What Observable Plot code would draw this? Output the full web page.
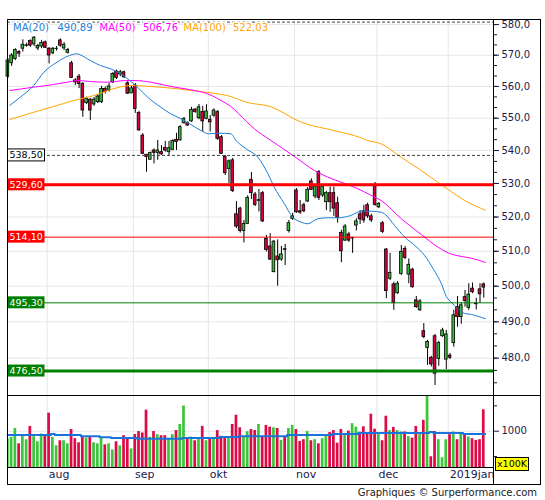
<!DOCTYPE html>
<html><head><meta charset="utf-8">
<script src="https://cdn.jsdelivr.net/npm/d3@7"></script>
<script src="https://cdn.jsdelivr.net/npm/@observablehq/plot@0.6"></script>
<style>
html,body{margin:0;padding:0;background:#fff;}
#wrap{position:relative;width:545px;height:500px;font-family:"DejaVu Sans",sans-serif;overflow:hidden;}
#wrap svg{position:absolute;left:0;}
.ln{position:absolute;background:#000;}
#copy{position:absolute;right:8px;top:487px;font-size:10px;line-height:12px;color:#222;white-space:nowrap;}
#unit{position:absolute;left:495px;top:457px;width:32px;height:12px;background:#ffff00;border:1px solid #000;font-size:9.5px;line-height:12px;text-align:center;color:#000;}
</style></head><body>
<div id="wrap"></div>
<script>
// ---------- data ----------
const opens = [563.1,567.4,568.8,571.0,572.1,573.0,574.6,573.5,572.2,572.8,574.2,572.1,570.6,572.0,574.8,572.2,570.8,567.4,561.9,563.1,
560.8,554.7,555.8,554.3,555.0,555.0,559.2,558.7,561.3,564.7,563.8,564.5,561.0,557.8,560.3,551.6,544.6,538.7,537.2,540.0,
539.3,539.5,540.8,539.5,540.2,543.3,543.1,548.4,548.4,549.0,552.7,550.0,551.9,549.8,549.5,550.8,551.9,544.1,538.0,534.4,
537.0,520.8,522.5,515.9,518.0,531.1,526.7,524.8,527.1,513.6,511.4,504.0,508.5,507.6,510.6,515.9,519.5,527.9,521.7,523.5,
524.6,530.6,526.1,533.4,526.4,524.4,527.1,527.1,524.1,515.3,513.1,514.9,513.7,517.5,520.8,521.7,523.5,520.2,529.4,522.9,
518.2,510.5,502.1,500.5,498.0,503.5,510.7,503.3,504.7,496.0,493.2,487.4,482.8,480.1,486.0,479.8,486.0,479.6,480.7,484.1,
494.1,491.3,496.9,493.9,499.3,495.1,499.1,500.5];
const highs = [568.9,570.5,572.1,571.5,575.0,573.9,575.0,576.1,573.5,574.8,574.6,572.5,572.5,572.8,575.3,574.1,572.2,568.0,562.5,563.8,
561.2,556.6,556.2,556.5,557.4,560.0,559.8,561.0,564.4,565.2,565.1,564.9,561.6,560.3,560.9,552.1,545.2,538.8,539.5,540.5,
543.1,541.5,542.8,542.8,543.3,545.3,547.7,550.2,548.9,553.4,553.0,554.3,553.7,554.2,550.8,552.9,552.4,544.6,538.5,537.1,
537.6,524.6,522.9,519.0,526.3,533.3,527.3,528.2,527.6,514.6,515.1,513.1,513.3,511.4,512.0,519.0,521.1,528.5,524.9,524.1,
528.8,531.4,529.7,533.9,529.4,527.6,528.9,528.9,525.9,516.1,517.8,515.5,514.1,519.5,521.9,523.5,524.1,520.8,530.3,524.3,
518.7,510.8,509.4,501.1,501.3,511.7,511.4,507.8,505.1,497.1,496.2,489.5,484.9,480.5,486.5,484.6,488.2,487.6,481.3,493.2,
497.1,495.4,498.8,500.7,500.9,496.6,500.7,500.9];
const lows = [562.5,566.4,568.3,569.3,571.0,572.6,572.6,572.8,571.5,572.1,572.2,567.2,570.2,571.3,572.6,571.5,570.4,562.5,560.3,559.3,
550.3,554.3,549.3,553.7,554.6,554.6,557.6,558.2,560.9,562.2,563.1,562.5,557.4,557.7,551.5,545.9,538.8,533.4,537.0,535.9,
537.0,538.5,539.5,538.2,540.0,540.0,542.9,548.2,547.4,548.7,551.5,549.5,545.7,549.5,545.7,550.3,543.1,538.8,532.4,530.0,
527.3,516.6,515.3,512.4,517.8,525.2,523.1,521.5,518.4,509.8,507.4,503.8,500.0,507.1,505.9,515.3,519.0,521.1,520.8,521.3,
524.3,527.9,525.4,524.9,525.8,521.9,521.4,520.2,518.2,506.7,512.8,512.6,509.4,515.9,517.8,518.2,519.6,518.4,523.2,522.5,
515.2,496.5,501.6,493.2,497.7,503.1,507.6,500.7,499.4,493.7,492.9,485.3,478.0,477.6,472.6,477.8,485.7,476.9,479.6,483.0,
488.5,489.3,494.1,493.2,497.9,493.3,495.1,496.6];
const closes = [568.3,569.9,571.7,570.5,573.4,573.2,573.1,575.7,573.0,574.0,572.4,569.9,572.1,572.1,573.1,573.4,571.7,562.7,561.3,560.8,
552.4,556.1,552.4,555.8,556.8,559.2,558.2,560.0,564.0,562.7,564.5,562.9,557.7,559.4,552.9,546.2,539.0,538.0,539.2,539.3,
540.0,538.8,540.0,540.7,542.9,542.6,547.2,549.7,547.7,552.6,551.9,553.4,549.0,552.1,548.7,552.4,543.6,539.0,533.1,536.7,
527.7,517.2,515.9,518.0,525.7,527.1,523.6,525.0,518.7,510.4,507.6,512.8,507.4,509.1,510.4,518.2,520.2,521.4,521.3,521.7,
528.1,528.1,529.1,525.7,528.9,527.1,524.4,522.5,519.8,510.0,517.2,513.1,513.9,518.7,519.3,519.0,520.2,519.0,523.6,523.9,
515.6,498.6,503.8,495.2,500.7,509.8,508.1,506.1,499.7,494.1,495.7,485.8,484.4,478.3,475.8,484.1,487.6,486.5,480.1,491.8,
491.3,494.6,495.8,497.6,498.3,494.9,497.7,499.6];
// volume, unit x100K
const volumes = [852,879,1054,751,919,832,1094,892,791,946,
919,1356,879,711,812,812,751,1033,852,771,
892,865,879,771,751,879,731,751,630,791,
711,912,865,650,933,993,966,1416,879,993,
933,912,912,845,933,1013,1134,1497,865,885,
812,865,1094,812,865,865,1013,899,879,879,
1134,1316,1067,892,990,1033,1013,1134,899,1114,
1080,1067,1054,818,899,1054,1114,1033,798,832,
993,812,832,751,852,933,973,1013,765,1033,
919,1000,1148,1080,980,1087,973,1336,1040,966,
812,1296,1013,1074,1013,986,986,892,865,1094,
933,1215,1700,496,993,832,476,832,933,986,
832,946,926,885,852,818,832,1423];

// moving averages (candle index, value)
const ma20Idx = [0.5,3.3,6.9,9.6,13.1,15.8,18.5,19.3,22,24.7,27.4,30,34.6,37.3,40.8,43.5,46.2,48.8,51.5,53.5,56,59.5,60.9,63.6,66.7,69.4,71.1,73.8,76,78.3,80,82.7,85.4,88.1,91.5,94.3,97,99.6,100.5,103.2,105.9,108.6,111.2,113.5,115.7,117,118.4,119.7,121.9,123.7,125.5,127.4];
const ma20Val = [553.97,556.58,560.28,564.52,567.73,569.58,570.45,570.12,568.28,566.67,565.61,564.0,559.75,556.58,553.43,551.36,549.8,548.03,546.17,545.15,545.34,545.15,543.08,540.5,537.96,532.92,528.88,523.93,519.96,518.5,518.02,519.49,519.78,519.78,520.46,521.72,521.72,521.43,520.96,517.52,514.1,511.68,508.79,504.97,500.69,497.1,495.4,493.98,492.33,492.05,491.5,490.89];
const ma50Idx = [0.5,6.9,12.2,15.8,18.5,22,26.5,31.4,33.7,38.2,43.5,48.8,53.3,56.9,59.5,63.6,65.8,70.2,76.5,81.8,85.4,88.9,93.4,97,99.6,105,110.3,114.8,117.5,121,123.7,127.4];
const ma50Val = [558.7,559.75,560.6,561.33,561.87,561.55,561.33,561.87,561.87,561.33,559.97,558.92,557.65,555.54,553.65,549.05,546.7,543.08,538.17,533.92,531.9,530.4,528.41,526.4,524.9,519.49,514.88,511.19,509.52,508.5,508.01,506.76];
const ma100Idx = [0.5,6.9,12.2,17.6,23,27.5,32.8,38.2,45.3,50.6,56,59.5,63.6,70,78.3,88,94,96,99.6,105,110.3,117.5,121.9,127.4];
const ma100Val = [549.58,551.86,553.65,555.54,557.11,559.02,560.28,559.97,559.24,558.48,557.65,556.8,555.0,553.65,548.74,545.9,544.0,543.08,542.07,537.9,533.9,528.2,524.9,522.03];
// volume moving average (step line)
const volMaIdx = [-0.1,11.5,12.5,19.5,24.5,27.5,34.5,46.5,56.5,61.5,74.5,86.5,93.5,112.5,113.5,121.5,127.4];
const volMaVal = [926,946,926,899,879,865,852,865,885,903,926,946,966,986,966,946,946];

// horizontal levels
const levelValues = [538.5, 529.6, 514.1, 495.3, 476.5];
const topLevel = [580.8];

// axis ticks / labels
const priceTicks = [480,490,500,510,520,530,540,550,560,570,580];
const volTicks = [1000];
const volMinorTicks = [500,1500];
const monthLabels = ["aug","sep","okt","nov","dec","2019jan"];
const monthStart = [11,34,54,77,99,118];

// ---------- styles ----------
const GREEN = "#3ab83a", RED = "#d8003c";
const C20 = "#1c7ed6", C50 = "#ff00ff", C100 = "#ffa500";
const GRID = "#e6e6e6", AXIS = "#1a1a4a";
const levelStyle = [
  {stroke:"#444", width:1, dash:"3,2", bg:"#fff", fg:"#000", border:"#000"},
  {stroke:"#ff0000", width:3, dash:null, bg:"#ff0000", fg:"#fff", border:"none"},
  {stroke:"#ff0000", width:1, dash:null, bg:"#ff0000", fg:"#fff", border:"none"},
  {stroke:"#008000", width:1, dash:null, bg:"#008000", fg:"#fff", border:"none"},
  {stroke:"#008000", width:3, dash:null, bg:"#008000", fg:"#fff", border:"none"}
];

// ---------- build tables ----------
const candles = opens.map((o,i)=>({i, open:o, high:highs[i], low:lows[i], close:closes[i], vol:volumes[i], up: closes[i] >= o}));
const ma20 = ma20Idx.map((x,k)=>({i:x, v:ma20Val[k]}));
const ma50 = ma50Idx.map((x,k)=>({i:x, v:ma50Val[k]}));
const ma100 = ma100Idx.map((x,k)=>({i:x, v:ma100Val[k]}));
const volMa = volMaIdx.map((x,k)=>({i:x, v:volMaVal[k]}));
const levels = levelValues.map((v,k)=>({value:v, ...levelStyle[k]}));
const months = monthLabels.map((t,k)=>({label:t, start:monthStart[k]}));
const minorPriceTicks = d3.range(0, 34).map(k => 580 - k*10/3).filter(v => v > 470);
const fmt = (v,d) => v.toFixed(d).replace(".", ",");

const xDomain = [-0.1, 129.6];
const HW = 0.36;
const font = {background:"transparent", fontFamily:"DejaVu Sans", fontSize:"10px", overflow:"visible", color:"#000"};

const levelMarks = levels.map(l => Plot.ruleY([l.value], {stroke:l.stroke, strokeWidth:l.width, strokeDasharray:l.dash || undefined}));

const price = Plot.plot({
  width:545, height:396, marginTop:19.5, marginBottom:0.5, marginLeft:7, marginRight:52,
  style: font,
  x: {domain:xDomain, axis:null},
  y: {type:"log", domain:[469.8, 581.5], axis:null},
  marks: [
    Plot.ruleY(priceTicks, {stroke:GRID}),
    Plot.ruleX(months, {x: d => d.start - 0.5, stroke:GRID}),
    Plot.ruleY(topLevel, {stroke:"#444", strokeDasharray:"3,2"}),
    Plot.ruleX(candles, {x:"i", y1:"low", y2:"high", stroke:"#000", strokeWidth:1}),
    Plot.rect(candles, {x1: d => d.i - HW, x2: d => d.i + HW, y1:"open", y2:"close", fill: d => d.up ? GREEN : RED, stroke:"#000", strokeWidth:0.8}),
    Plot.line(ma100, {x:"i", y:"v", stroke:C100, strokeWidth:1, curve:"monotone-x"}),
    Plot.line(ma50, {x:"i", y:"v", stroke:C50, strokeWidth:1, curve:"monotone-x"}),
    Plot.line(ma20, {x:"i", y:"v", stroke:C20, strokeWidth:1, curve:"monotone-x"}),
    ...levelMarks,
    Plot.axisY({anchor:"right", ticks:priceTicks, tickSize:5, tickPadding:3, tickFormat: v => fmt(v,1), color:AXIS, fontSize:10}),
    Plot.axisY({anchor:"right", ticks:minorPriceTicks, tickSize:3, tickFormat: () => "", color:AXIS})
  ]
});

const vol = Plot.plot({
  width:545, height:89, marginTop:0, marginBottom:17.5, marginLeft:7, marginRight:52,
  style: font,
  x: {domain:xDomain, axis:null},
  y: {domain:[274, 1685], axis:null},
  marks: [
    Plot.ruleX(months, {x: d => d.start - 0.5, stroke:GRID}),
    Plot.ruleY(volTicks, {stroke:GRID}),
    Plot.rectY(candles, {x1: d => d.i - HW, x2: d => d.i + HW, y:"vol", fill: d => d.up ? "#3cc43c" : "#dc0a46", clip:true}),
    Plot.line(volMa, {x:"i", y:"v", curve:"step-after", stroke:"#1a73d9", strokeWidth:2}),
    Plot.axisY({anchor:"right", ticks:volTicks, tickSize:5, tickPadding:3, tickFormat: d => String(d), color:AXIS, fontSize:10}),
    Plot.axisY({anchor:"right", ticks:volMinorTicks, tickSize:3, tickFormat: () => "", color:AXIS}),
    Plot.text(months, {x: d => d.start - 0.5, text:"label", frameAnchor:"bottom", dy:9.5, dx:1.5, textAnchor:"start", fontSize:11, fill:AXIS})
  ]
});

const wrap = document.getElementById("wrap");
price.style.top = "0px";
vol.style.top = "396px";
wrap.appendChild(price);
wrap.appendChild(vol);

// level labels on the left, placed with the plot's own y scale
const ys = price.scale("y");
const psvg = d3.select(price);
const lg = psvg.append("g").attr("text-anchor", "start");
levels.forEach(l => {
  const y = ys.apply(l.value);
  lg.append("rect").attr("x", 7.5).attr("y", y - 6).attr("width", 37).attr("height", 12)
    .attr("fill", l.bg).attr("stroke", l.border === "none" ? null : l.border).attr("stroke-width", 1);
  lg.append("text").attr("x", 9.5).attr("y", y).attr("dy", "0.36em").attr("fill", l.fg)
    .attr("text-anchor", "start").attr("font-size", 9.5).attr("font-family", "DejaVu Sans").text(fmt(l.value, 2));
});

// MA legend
const legend = [
  {t:"MA(20)", c:C20, x:13}, {t:fmt(ma20Val[ma20Val.length-1],2), c:C20, x:57.5},
  {t:"MA(50)", c:C50, x:99.5}, {t:fmt(ma50Val[ma50Val.length-1],2), c:C50, x:143},
  {t:"MA(100)", c:C100, x:183.5}, {t:fmt(ma100Val[ma100Val.length-1],2), c:C100, x:233}
];
const leg = psvg.append("g").attr("text-anchor", "start");
legend.forEach(d => {
  leg.append("text").attr("x", d.x).attr("y", 27).attr("dy", "0.36em").attr("fill", d.c)
    .attr("text-anchor", "start")
    .attr("stroke", "#fff").attr("stroke-width", 3).attr("paint-order", "stroke")
    .attr("font-size", 10).attr("font-family", "DejaVu Sans").text(d.t);
});

// frame lines
const lines = [
  [7,19,534,1],[7,19,1,466],[540,19,1,466],[7,484,534,1],[493,19,1,466],[7,395,534,1],[7,467,486,1]
];
lines.forEach(([l,t,w,h]) => {
  const d = document.createElement("div");
  d.className = "ln";
  d.style.cssText = `left:${l}px;top:${t}px;width:${w}px;height:${h}px;`;
  wrap.appendChild(d);
});
const unit = document.createElement("div"); unit.id = "unit"; unit.textContent = "x100K"; wrap.appendChild(unit);
const copy = document.createElement("div"); copy.id = "copy"; copy.textContent = "Graphiques © Surperformance.com"; wrap.appendChild(copy);
</script>
</body></html>
